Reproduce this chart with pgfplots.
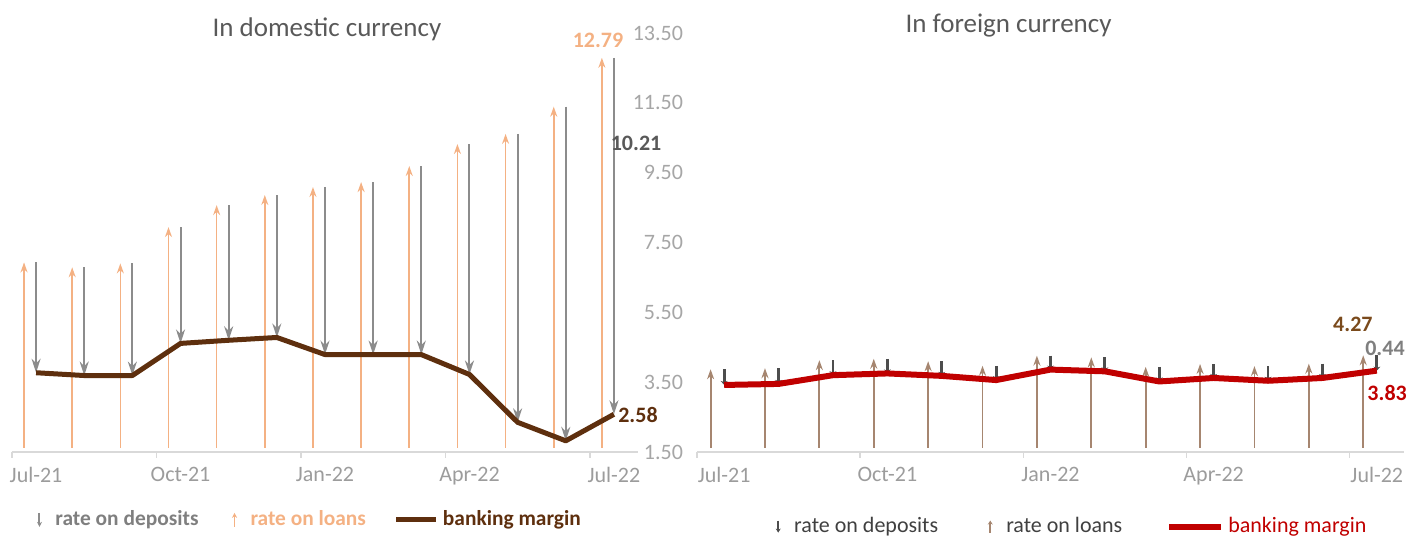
\documentclass[border=0pt]{standalone}
\usepackage{pgfplots}
\pgfplotsset{compat=1.18}
\usepackage{pgfplotstable}
\usepackage{fontspec}
\setmainfont{Carlito}
\usetikzlibrary{arrows.meta}

\definecolor{loanor}{HTML}{F4B183}
\definecolor{depgray}{HTML}{8C8C8C}
\definecolor{margbrown}{HTML}{5E2F0E}
\definecolor{ticklab}{HTML}{A6A6A6}
\definecolor{xlab}{HTML}{9C9C9C}
\definecolor{titlegray}{HTML}{595959}
\definecolor{axisgray}{HTML}{D9D9D9}
\definecolor{loanbr}{HTML}{A68670}
\definecolor{depdark}{HTML}{4D4D4D}
\definecolor{margred}{HTML}{C00000}
\definecolor{labbrown}{HTML}{7A4A1C}
\definecolor{legdark}{HTML}{404040}
\definecolor{leggray}{HTML}{7F7F7F}

% m = month index (Jul-21 = 0), rates in %
\pgfplotstableread{
m loan  margin dep
0  6.93 3.77  3.16
1  6.79 3.69  3.10
2  6.90 3.69  3.21
3  7.94 4.61  3.33
4  8.57 4.70  3.87
5  8.86 4.78  4.08
6  9.09 4.29  4.80
7  9.23 4.29  4.94
8  9.69 4.29  5.40
9  10.32 3.72 6.60
10 10.61 2.35 8.26
11 11.39 1.82 9.57
12 12.79 2.58 10.21
}\domestic

\pgfplotstableread{
m loan margin dep
0  3.87 3.42 0.45
1  3.90 3.45 0.45
2  4.13 3.70 0.43
3  4.17 3.75 0.42
4  4.10 3.68 0.42
5  3.97 3.56 0.41
6  4.26 3.86 0.40
7  4.21 3.81 0.40
8  3.94 3.52 0.42
9  4.02 3.62 0.40
10 3.96 3.54 0.42
11 4.03 3.62 0.41
12 4.27 3.83 0.44
}\foreign

\pgfplotsset{
  panel/.style={
    scale only axis, height=209.5pt,
    xmin=-0.5, xmax=12.5, ymin=1.5, ymax=13.5,
    axis x line*=bottom,
    x axis line style={axisgray, line width=0.8pt},
    xtick={-0.5,2.5,5.5,8.5,11.5}, xticklabels={},
    major x tick style={axisgray, line width=0.8pt},
    tick align=outside, major tick length=3pt,
    extra x ticks={0,3,6,9,12},
    extra x tick labels={Jul-21,Oct-21,Jan-22,Apr-22,Jul-22},
    extra x tick style={major tick length=0pt,
      xticklabel style={text=xlab, font=\fontsize{11}{13}\selectfont, yshift=-4pt}},
    clip=false,
    title style={font=\fontsize{13.5}{16}\selectfont, text=titlegray, anchor=center},
    legend cell align=left,
  },
}

\begin{document}
\begin{tikzpicture}
\useasboundingbox (0,0) rectangle (704pt,270pt);

% ---- domestic currency ----
\begin{axis}[panel, width=313pt,
    at={(6pt,44pt)}, anchor=south west,
    title={In domestic currency},
    title style={at={(0.503,1)}, yshift=-4pt},
    axis y line*=right,
    y axis line style={draw=none},
    major y tick style={draw=none},
    ytick={1.5,3.5,5.5,7.5,9.5,11.5,13.5},
    /pgf/number format/assume math mode=true,
    y tick label style={/pgf/number format/fixed, /pgf/number format/fixed zerofill,
      /pgf/number format/precision=2},
    yticklabel style={anchor=east, xshift=23pt, text=ticklab, font=\fontsize{11}{13}\selectfont},
    legend style={at={(0.473,-0.162)}, anchor=center, draw=none, fill=none,
      legend columns=3, font=\fontsize{10.7}{12}\selectfont\bfseries,
      /tikz/every even column/.append style={column sep=12pt}},
  ]
  \addplot[depgray, line width=1pt, -{Stealth[length=7pt,width=4.5pt]},
    quiver={u=0, v=-\thisrow{dep}},
    legend image code/.code={\path[draw=none,-] (0pt,0pt) -- (10pt,0pt);
      \draw[depgray, line width=1pt, -{Stealth[length=2.5pt,width=2.5pt]}] (4pt,3.5pt) -- (4pt,-3.5pt);}]
    table[x=m, y=loan] {\domestic};
  \addlegendentry{\textcolor{leggray}{rate on deposits}}
  \addplot[loanor, line width=0.8pt, -{Stealth[length=5pt,width=3.5pt]},
    quiver={u=0, v=\thisrow{loan}-1.62},
    legend image code/.code={\path[draw=none,-] (0pt,0pt) -- (10pt,0pt);
      \draw[loanor, line width=0.8pt, -{Stealth[length=2.5pt,width=2.5pt]}] (4pt,-3.5pt) -- (4pt,3.5pt);}]
    table[x expr=\thisrow{m}-0.25, y expr=1.62] {\domestic};
  \addlegendentry{\textcolor{loanor}{rate on loans}}
  \addplot[margbrown, line width=2.5pt, line join=round, no markers,
    legend image code/.code={\draw[margbrown, line width=2.5pt,-] (0pt,0pt) -- (20pt,0pt);}]
    table[x=m, y=margin] {\domestic};
  \addlegendentry{\textcolor{margbrown}{banking margin}}
  \node[font=\fontsize{11}{13}\selectfont\bfseries, text=loanor] at (axis cs:11.67,13.3) {12.79};
  \node[font=\fontsize{11}{13}\selectfont\bfseries, text=titlegray] at (axis cs:12.46,10.33) {10.21};
  \node[font=\fontsize{11}{13}\selectfont\bfseries, text=margbrown] at (axis cs:12.5,2.56) {2.58};
\end{axis}

% ---- foreign currency ----
\begin{axis}[panel, width=353.5pt,
    at={(348.5pt,44pt)}, anchor=south west,
    title={In foreign currency},
    title style={at={(0.4406,1)}, yshift=-2.5pt},
    axis y line=none,
    legend style={at={(0.528,-0.178)}, anchor=center, draw=none, fill=none,
      legend columns=3, font=\fontsize{11}{13}\selectfont,
      /tikz/every even column/.append style={column sep=20pt}},
  ]
  \addplot[depdark, line width=1.4pt, -{Stealth[length=2pt,width=3.5pt]},
    quiver={u=0, v=-\thisrow{dep}},
    legend image code/.code={\path[draw=none,-] (0pt,0pt) -- (10pt,0pt);
      \draw[depdark, line width=1pt, -{Stealth[length=2pt,width=2.5pt]}] (4pt,3pt) -- (4pt,-3pt);}]
    table[x=m, y=loan] {\foreign};
  \addlegendentry{\textcolor{legdark}{rate on deposits}}
  \addplot[loanbr, line width=0.9pt, -{Stealth[length=5pt,width=3.5pt]},
    quiver={u=0, v=\thisrow{loan}-1.62},
    legend image code/.code={\path[draw=none,-] (0pt,0pt) -- (10pt,0pt);
      \draw[loanbr, line width=0.8pt, -{Stealth[length=2pt,width=2.5pt]}] (4pt,-3pt) -- (4pt,3pt);}]
    table[x expr=\thisrow{m}-0.25, y expr=1.62] {\foreign};
  \addlegendentry{\textcolor{legdark}{rate on loans}}
  \addplot[margred, line width=3pt, line join=round, no markers,
    legend image code/.code={\draw[margred, line width=3pt,-] (0pt,0pt) -- (26pt,0pt);}]
    table[x=m, y=margin] {\foreign};
  \addlegendentry{\textcolor{margred}{banking margin}}
  \node[font=\fontsize{11}{13}\selectfont\bfseries, text=labbrown] at (axis cs:11.56,5.16) {4.27};
  \node[font=\fontsize{11}{13}\selectfont\bfseries, text=leggray] at (axis cs:12.15,4.47) {0.44};
  \node[font=\fontsize{11}{13}\selectfont\bfseries, text=margred] at (axis cs:12.19,3.19) {3.83};
\end{axis}
\end{tikzpicture}
\end{document}
